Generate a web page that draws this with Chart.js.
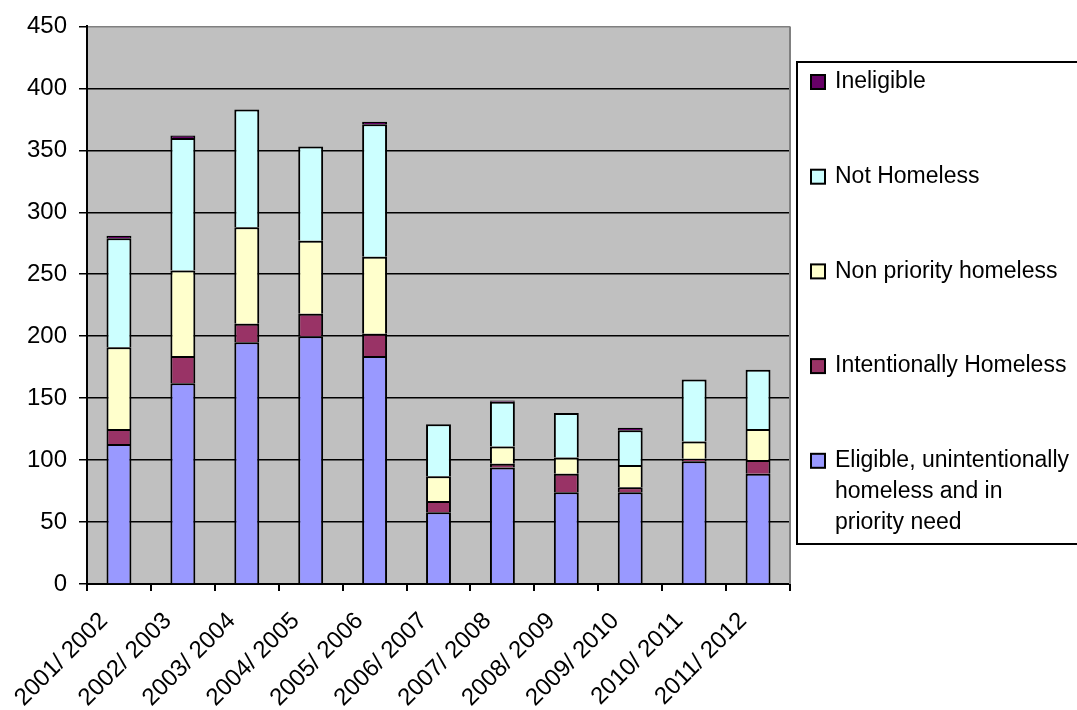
<!DOCTYPE html>
<html>
<head>
<meta charset="utf-8">
<title>Homelessness decisions by year</title>
<script src="https://cdn.jsdelivr.net/npm/chart.js@4.4.1/dist/chart.umd.min.js"></script>
<style>
  html, body { margin: 0; padding: 0; background: #fff; overflow: hidden; }
  canvas { display: block; }
</style>
</head>
<body>
<canvas id="chart" width="1077" height="710"></canvas>
<script>
// Financial years
const years = ['2001/ 2002', '2002/ 2003', '2003/ 2004', '2004/ 2005', '2005/ 2006', '2006/ 2007',
               '2007/ 2008', '2008/ 2009', '2009/ 2010', '2010/ 2011', '2011/ 2012'];

// Decisions per year, stacked bottom to top
const eligible    = [113, 162, 195, 200, 184, 58, 94, 74, 74, 99, 89];
const intentional = [12, 22, 15, 18, 18, 9, 3, 15, 4, 2, 11];
const nonPriority = [66, 69, 78, 59, 62, 20, 14, 13, 18, 14, 25];
const notHomeless = [88, 107, 95, 76, 107, 42, 36, 36, 28, 50, 48];
const ineligible  = [2, 2, 0, 0, 2, 0, 1, 0, 2, 0, 0];

// Value axis ticks
const yTicks = [0, 50, 100, 150, 200, 250, 300, 350, 400, 450];

const FONT = '"Liberation Sans", Arial, sans-serif';

const series = [
  { label: 'Eligible, unintentionally homeless and in priority need',
    lines: ['Eligible, unintentionally', 'homeless and in', 'priority need'],
    data: eligible, color: '#9999FF' },
  { label: 'Intentionally Homeless', lines: ['Intentionally Homeless'], data: intentional, color: '#993366' },
  { label: 'Non priority homeless', lines: ['Non priority homeless'], data: nonPriority, color: '#FFFFCC' },
  { label: 'Not Homeless', lines: ['Not Homeless'], data: notHomeless, color: '#CCFFFF' },
  { label: 'Ineligible', lines: ['Ineligible'], data: ineligible, color: '#660066' }
];

// Grey plot background and right-hand frame line
const plotFrame = {
  id: 'plotFrame',
  beforeDraw(chart) {
    const { ctx, chartArea: a } = chart;
    ctx.save();
    ctx.fillStyle = '#C0C0C0';
    ctx.fillRect(a.left, a.top, a.right - a.left, a.bottom - a.top);
    ctx.restore();
  },
  afterDraw(chart) {
    const { ctx, chartArea: a } = chart;
    ctx.save();
    ctx.strokeStyle = '#808080';
    ctx.lineWidth = 2;
    ctx.beginPath();
    ctx.moveTo(a.right, a.top);
    ctx.lineTo(a.right, a.bottom);
    ctx.stroke();
    ctx.restore();
  }
};

// Boxed legend on the right, listed top series first
const boxLegend = {
  id: 'boxLegend',
  afterDraw(chart) {
    const { ctx } = chart;
    const left = 797, top = 62, bottom = 544;
    ctx.save();
    ctx.strokeStyle = '#000';
    ctx.lineWidth = 2;
    ctx.strokeRect(left, top, chart.width - left + 10, bottom - top);
    ctx.font = '23px ' + FONT;
    ctx.textBaseline = 'middle';
    ctx.textAlign = 'left';
    const items = chart.data.datasets.slice().reverse();
    items.forEach((ds, i) => {
      const y = 82 + i * 94.7;
      ctx.fillStyle = ds.backgroundColor;
      ctx.fillRect(811, y - 7, 14, 14);
      ctx.strokeStyle = '#000';
      ctx.lineWidth = 2;
      ctx.strokeRect(811, y - 7, 14, 14);
      ctx.fillStyle = '#000';
      ds.legendLines.forEach((line, j) => ctx.fillText(line, 835, y + j * 31));
    });
    ctx.restore();
  }
};

new Chart(document.getElementById('chart'), {
  type: 'bar',
  data: {
    labels: years,
    datasets: series.map(s => ({
      label: s.label,
      legendLines: s.lines,
      data: s.data,
      backgroundColor: s.color,
      borderColor: '#000',
      borderWidth: 2,
      borderSkipped: 'start',
      categoryPercentage: 1,
      barPercentage: 0.39
    }))
  },
  options: {
    responsive: false,
    animation: false,
    devicePixelRatio: 1,
    layout: { padding: { top: 23, right: 1077 - 790, left: 0, bottom: 0 } },
    plugins: { legend: { display: false }, tooltip: { enabled: false } },
    scales: {
      x: {
        stacked: true,
        afterFit(scale) { scale.height = 710 - 584; },
        grid: { offset: true, drawOnChartArea: false, drawTicks: true, tickLength: 7, color: '#000', lineWidth: 2 },
        border: { color: '#000', width: 2 },
        ticks: {
          color: '#000', font: { family: FONT, size: 24 },
          minRotation: 45, maxRotation: 45, autoSkip: false, padding: 16, labelOffset: -15
        }
      },
      y: {
        stacked: true,
        min: 0, max: 450,
        afterFit(scale) { scale.width = 87; },
        afterBuildTicks(scale) { scale.ticks = yTicks.map(v => ({ value: v })); },
        grid: {
          color: ctx => (ctx.tick && ctx.tick.value === 450 ? '#808080' : '#000'),
          tickColor: '#000', lineWidth: 1.5, tickLength: 8
        },
        border: { color: '#000', width: 2 },
        ticks: { color: '#000', font: { family: FONT, size: 24 }, padding: 12 }
      }
    }
  },
  plugins: [plotFrame, boxLegend]
});
</script>
</body>
</html>
